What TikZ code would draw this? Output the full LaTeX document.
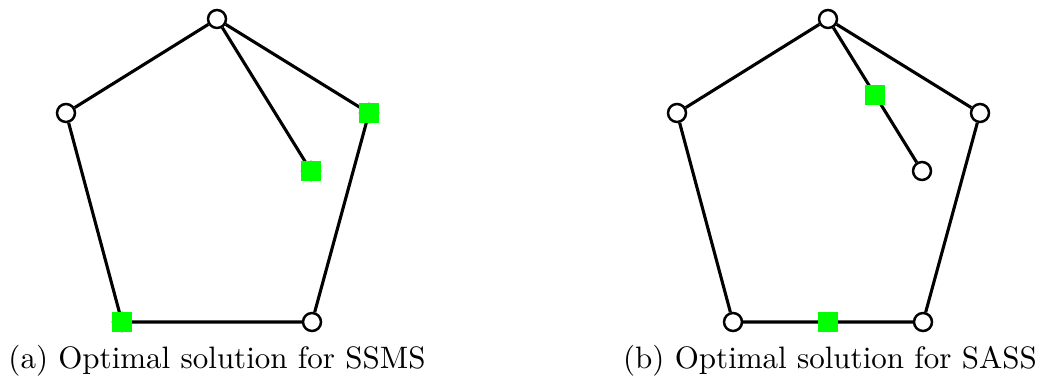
\documentclass[tikz,border=0pt]{standalone}
\usepackage{amsmath}
\usepackage{xcolor}
\usepackage{tikz}
\tikzset{
    vtx/.style={circle, draw, line width=0.8pt, fill=white, inner sep=0pt, minimum size=5.8pt},
    sol/.style={rectangle, fill=green, inner sep=0pt, minimum size=6.3pt},
    edge/.style={line width=1pt}
}

\begin{document}
\begin{tikzpicture}[x=0.3226pt, y=-0.3226pt]
                \useasboundingbox (0,0) rectangle (1041,381);

                % Left: SSMS
                \node[vtx] (a1) at (217,19) {};
                \node[vtx] (a2) at (66,113) {};
                \node[vtx] (a3) at (369,113) {};
                \node[vtx] (a4) at (122,322) {};
                \node[vtx] (a5) at (312,322) {};
                \node[vtx] (a6) at (311,171) {};
                \draw[edge] (a1) -- (a3) -- (a5) -- (a4) -- (a2) -- (a1);
                \draw[edge] (a1) -- (a6);

                % chosen points sit on top of the vertices
                \node[sol] (as1) at (a3) {};
                \node[sol] (as2) at (a6) {};
                \node[sol] (as3) at (a4) {};

                \node[anchor=base] (capa) at (217,368) {(a) Optimal solution for SSMS};

                % Right: SASS
                \node[vtx] (b1) at (828,19) {};
                \node[vtx] (b2) at (677,113) {};
                \node[vtx] (b3) at (980,113) {};
                \node[vtx] (b4) at (733,322) {};
                \node[vtx] (b5) at (923,322) {};
                \node[vtx] (b6) at (922,171) {};
                \draw[edge] (b1) -- (b3) -- (b5) -- (b4) -- (b2) -- (b1);
                \draw[edge] (b1) -- (b6);

                % chosen points in the middle of edges
                \path (b1) -- (b6) node[sol, midway] (bs1) {};
                \path (b4) -- (b5) node[sol, midway] (bs2) {};

                \node[anchor=base] (capb) at (830,368) {(b) Optimal solution for SASS};
            \end{tikzpicture}
\end{document}
